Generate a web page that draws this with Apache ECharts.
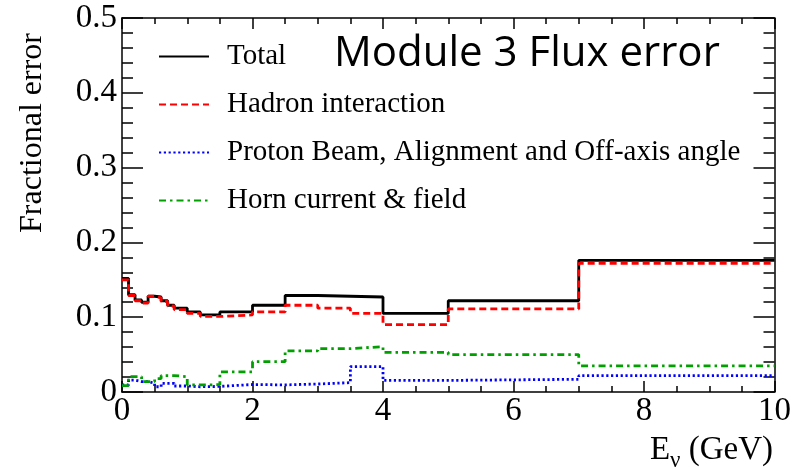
<!DOCTYPE html>
<html>
<head>
<meta charset="utf-8">
<script src="https://cdn.jsdelivr.net/npm/echarts@6/dist/echarts.min.js"></script>
<style>
  html, body { margin: 0; padding: 0; background: #fff; }
  #chart { width: 794px; height: 468px; }
</style>
</head>
<body>
<div id="chart"></div>
<script>
// Neutrino energy bin edges (GeV)
const binEdges = [0, 0.1, 0.2, 0.3, 0.4, 0.5, 0.6, 0.7, 0.8, 1.0, 1.2, 1.5, 2.0, 2.5, 3.0, 3.5, 4.0, 5.0, 7.0, 10.0];

// Fractional flux error per bin
const totalErr   = [0.152, 0.130, 0.123, 0.120, 0.128, 0.127, 0.122, 0.116, 0.112, 0.107, 0.103, 0.107, 0.116, 0.129, 0.128, 0.127, 0.105, 0.122, 0.176];
const hadronErr  = [0.150, 0.129, 0.122, 0.119, 0.128, 0.126, 0.121, 0.115, 0.110, 0.105, 0.101, 0.103, 0.107, 0.116, 0.112, 0.105, 0.090, 0.111, 0.172];
const beamErr    = [0.0094, 0.016, 0.014, 0.014, 0.0116, 0.007, 0.0116, 0.0116, 0.008, 0.007, 0.0075, 0.0100, 0.0095, 0.0107, 0.0125, 0.034, 0.0155, 0.017, 0.0218];
const hornErr    = [0.0085, 0.0205, 0.0205, 0.014, 0.014, 0.018, 0.022, 0.022, 0.0205, 0.0094, 0.0098, 0.027, 0.0405, 0.055, 0.058, 0.0606, 0.053, 0.050, 0.035];

const seriesNames = ['Total', 'Hadron interaction', 'Proton Beam, Alignment and Off-axis angle', 'Horn current & field'];
const xTicks = [0, 2, 4, 6, 8, 10];
const yTicks = [0, 0.1, 0.2, 0.3, 0.4, 0.5];

// Turn per-bin values into step points: each bin's left edge, then the final right edge
function histPoints(values) {
  const pts = values.map((v, i) => [binEdges[i], v]);
  pts.push([binEdges[binEdges.length - 1], values[values.length - 1]]);
  return pts;
}

const serif = 'Liberation Serif';

function fmtY(v) {
  if (Math.abs(v) < 1e-9) return '0';
  return v.toFixed(1);
}

const chart = echarts.init(document.getElementById('chart'), null, { renderer: 'canvas' });

const frameLine = { show: true, onZero: false, lineStyle: { color: '#000', width: 1.5 } };
const tickStyle = { color: '#000', width: 1.5 };

chart.setOption({
  animation: false,
  backgroundColor: '#fff',
  grid: { left: 122, right: 19, top: 18, bottom: 76, containLabel: false },
  legend: {
    orient: 'vertical',
    left: 158,
    top: 42,
    padding: 0,
    itemWidth: 50,
    itemHeight: 14,
    itemGap: 19,
    itemStyle: { opacity: 0 },
    textStyle: { fontFamily: serif, fontSize: 29, color: '#000', padding: [0, 0, 0, 13] },
    data: seriesNames
  },
  xAxis: [
    {
      type: 'value', min: 0, max: 10, interval: 2, position: 'bottom',
      axisLine: frameLine,
      axisTick: { show: true, inside: true, length: 11, lineStyle: tickStyle },
      minorTick: { show: true, splitNumber: 4, length: 6, lineStyle: tickStyle },
      splitLine: { show: false },
      axisLabel: { fontFamily: serif, fontSize: 33, color: '#000', margin: 3,
        formatter: v => xTicks.includes(v) ? String(v) : '' }
    },
    {
      type: 'value', min: 0, max: 10, interval: 2, position: 'top',
      axisLine: frameLine,
      axisTick: { show: true, inside: true, length: 11, lineStyle: tickStyle },
      minorTick: { show: true, splitNumber: 4, length: 6, lineStyle: tickStyle },
      splitLine: { show: false },
      axisLabel: { show: false }
    }
  ],
  yAxis: [
    {
      type: 'value', min: 0, max: 0.5, interval: 0.1, position: 'left',
      axisLine: frameLine,
      axisTick: { show: true, inside: true, length: 21, lineStyle: tickStyle },
      minorTick: { show: true, splitNumber: 5, length: 11, lineStyle: tickStyle },
      splitLine: { show: false },
      axisLabel: { fontFamily: serif, fontSize: 33, color: '#000', margin: 5,
        formatter: v => yTicks.some(t => Math.abs(t - v) < 1e-9) ? fmtY(v) : '' }
    },
    {
      type: 'value', min: 0, max: 0.5, interval: 0.1, position: 'right',
      axisLine: frameLine,
      axisTick: { show: true, inside: true, length: 21, lineStyle: tickStyle },
      minorTick: { show: true, splitNumber: 5, length: 11, lineStyle: tickStyle },
      splitLine: { show: false },
      axisLabel: { show: false }
    }
  ],
  series: [
    {
      name: seriesNames[0], type: 'line', step: 'end', symbol: 'none', z: 5,
      data: histPoints(totalErr),
      lineStyle: { color: '#000', width: 2.8, type: 'solid' },
      itemStyle: { color: '#000' }
    },
    {
      name: seriesNames[1], type: 'line', step: 'end', symbol: 'none', z: 6,
      data: histPoints(hadronErr),
      lineStyle: { color: '#ff0000', width: 2.8, type: [7, 4] },
      itemStyle: { color: '#ff0000' }
    },
    {
      name: seriesNames[2], type: 'line', step: 'end', symbol: 'none', z: 4,
      data: histPoints(beamErr),
      lineStyle: { color: '#0000ff', width: 2.8, type: [2.2, 2.6] },
      itemStyle: { color: '#0000ff' }
    },
    {
      name: seriesNames[3], type: 'line', step: 'end', symbol: 'none', z: 4,
      data: histPoints(hornErr),
      lineStyle: { color: '#00a000', width: 2.8, type: [7, 4, 2.5, 4] },
      itemStyle: { color: '#00a000' }
    }
  ],
  graphic: [
    {
      type: 'text', x: 334, y: 54,
      style: { text: 'Module 3 Flux error', fontFamily: 'Open Sans', fontSize: 42, fill: '#000',
        align: 'left', verticalAlign: 'middle' }
    },
    {
      type: 'text', x: 33, y: 133, rotation: Math.PI / 2,
      style: { text: 'Fractional error', fontFamily: serif, fontSize: 32, fill: '#000',
        align: 'center', verticalAlign: 'middle' }
    },
    {
      type: 'text', x: 773, y: 450,
      style: {
        text: 'E{sub|ν} (GeV)',
        fontFamily: serif, fontSize: 33, fill: '#000', align: 'right', verticalAlign: 'middle',
        rich: { sub: { fontFamily: serif, fontSize: 23, fill: '#000', verticalAlign: 'bottom', padding: [22, 0, 0, 0] } }
      }
    }
  ]
});
</script>
</body>
</html>
